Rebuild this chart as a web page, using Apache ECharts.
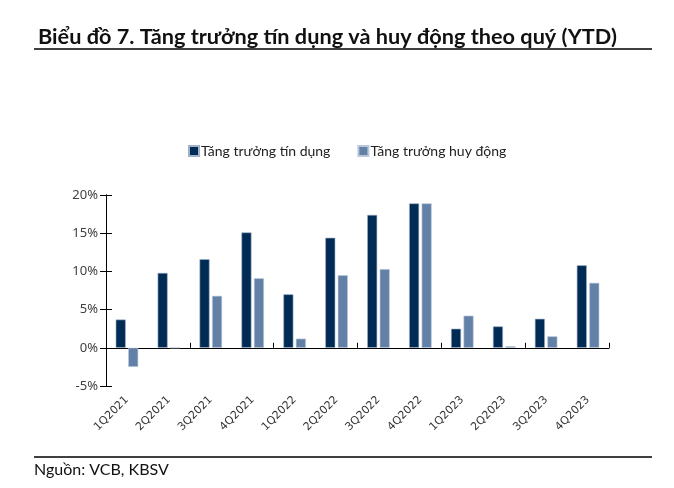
<!DOCTYPE html>
<html>
<head>
<meta charset="utf-8">
<script src="https://cdn.jsdelivr.net/npm/echarts@6/dist/echarts.min.js"></script>
<style>
html,body{margin:0;padding:0;background:#fff;}
#c{width:674px;height:488px;}
</style>
</head>
<body>
<div id="c"></div>
<script>
var categories = ['1Q2021','2Q2021','3Q2021','4Q2021','1Q2022','2Q2022','3Q2022','4Q2022','1Q2023','2Q2023','3Q2023','4Q2023'];
var creditGrowth = [3.7, 9.8, 11.6, 15.1, 7.0, 14.4, 17.4, 18.9, 2.5, 2.8, 3.8, 10.8];
var depositGrowth = [-2.5, 0.0, 6.8, 9.1, 1.2, 9.5, 10.3, 18.9, 4.2, 0.2, 1.5, 8.5];
var seriesNames = ['Tăng trưởng tín dụng', 'Tăng trưởng huy động'];
var yTicks = {min: -5, max: 20, interval: 5};

var chart = echarts.init(document.getElementById('c'));
var fontMain = 'Lato, "Noto Sans", sans-serif';
var gridBox = {left: 106, right: 65, top: 195, bottom: 102};
chart.setOption({
  animation: false,
  backgroundColor: '#fff',
  title: {
    text: 'Biểu đồ 7. Tăng trưởng tín dụng và huy động theo quý (YTD)',
    left: 33, top: 21,
    textStyle: {fontFamily: fontMain, fontWeight: 'bold', fontSize: 21.7, color: '#111'}
  },
  legend: {
    data: seriesNames,
    left: 183, top: 139,
    itemWidth: 10, itemHeight: 10, itemGap: 27,
    icon: 'rect',
    textStyle: {fontFamily: fontMain, fontSize: 14, color: '#222', padding: [0,0,0,-3]}
  },
  grid: [
    Object.assign({}, gridBox),
    Object.assign({}, gridBox)
  ],
  xAxis: [{
    type: 'category', data: categories, gridIndex: 0,
    axisLine: {onZero: true, lineStyle: {color: '#000', width: 1}},
    axisTick: {show: true, inside: true, length: 5, lineStyle: {color: '#000'}},
    axisLabel: {show: false},
    splitLine: {show: false}
  }, {
    type: 'category', data: categories, position: 'bottom', gridIndex: 0,
    axisLine: {show: false, onZero: false},
    axisTick: {show: false},
    axisLabel: {rotate: 45, margin: 12, fontFamily: '"DejaVu Sans", sans-serif', fontSize: 11, color: '#333'}
  }, {
    type: 'category', data: categories, gridIndex: 1, show: false
  }],
  yAxis: [{
    type: 'value', min: yTicks.min, max: yTicks.max, interval: yTicks.interval, gridIndex: 0,
    axisLine: {show: true, lineStyle: {color: '#000'}},
    axisTick: {show: true, length: 6, lineStyle: {color: '#000'}},
    axisLabel: {formatter: '{value}%', margin: 8, fontFamily: '"Noto Sans", sans-serif', fontSize: 13, color: '#404040'},
    splitLine: {show: false}
  }, {
    type: 'value', min: yTicks.min, max: yTicks.max, interval: yTicks.interval, gridIndex: 1, position: 'left',
    axisLine: {show: true, lineStyle: {color: '#000'}},
    axisTick: {show: true, inside: true, length: 6, lineStyle: {color: '#000'}},
    axisLabel: {show: false},
    splitLine: {show: false}
  }],
  series: [{
    name: seriesNames[0], type: 'bar', data: creditGrowth,
    xAxisIndex: 0, yAxisIndex: 0,
    barWidth: 10, barGap: '25%',
    itemStyle: {color: '#002B55', borderColor: '#9fb0c8', borderWidth: 0.6}
  }, {
    name: seriesNames[1], type: 'bar', data: depositGrowth,
    xAxisIndex: 0, yAxisIndex: 0,
    barWidth: 10, barGap: '25%',
    itemStyle: {color: '#6381A7', borderColor: '#b9c7da', borderWidth: 0.6}
  }],
  graphic: [
    {type: 'line', shape: {x1: 34, y1: 49, x2: 652, y2: 49}, style: {stroke: '#000', lineWidth: 1.5}},
    {type: 'line', shape: {x1: 34, y1: 457, x2: 652, y2: 457}, style: {stroke: '#000', lineWidth: 1.5}},
    {type: 'text', left: 34, top: 462, style: {text: 'Nguồn: VCB, KBSV', font: '16px ' + fontMain, fill: '#111'}}
  ]
});
</script>
</body>
</html>
